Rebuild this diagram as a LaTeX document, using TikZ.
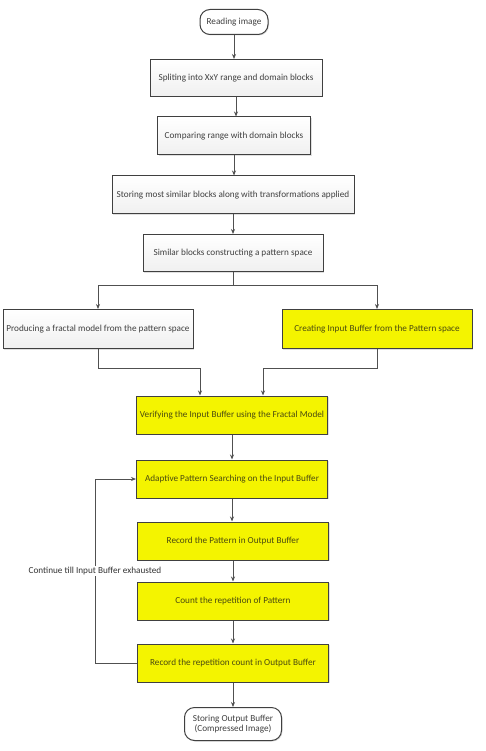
\documentclass[tikz,border=0pt]{standalone}
\usepackage{fontspec}
\setmainfont{Carlito}
\usetikzlibrary{arrows.meta,shadows}
\definecolor{edgec}{HTML}{505050}
\definecolor{boxline}{HTML}{404040}
\definecolor{txt}{HTML}{404040}
\definecolor{ylw}{HTML}{F4F400}
\definecolor{ytxt}{HTML}{4A4A10}
\tikzset{
  base/.style={draw=boxline, line width=1pt, text=txt, font=\fontsize{9.2}{10.5}\selectfont,
    align=center, inner sep=2pt, drop shadow={shadow xshift=1pt, shadow yshift=-1pt, opacity=0.25}},
  whitebox/.style={base, top color=white, bottom color=gray!12, minimum height=38pt},
  yellowbox/.style={base, fill=ylw, text=ytxt, minimum width=191pt, minimum height=38pt},
  term/.style={base, rounded corners=10pt, fill=white},
  arr/.style={draw=edgec, line width=0.8pt, -{Stealth[length=5pt,width=4pt]}},
  ln/.style={draw=edgec, line width=0.8pt},
}
\begin{document}
\begin{tikzpicture}[x=1pt,y=-1pt]
\useasboundingbox[fill=white] (0,0) rectangle (485,751);
\node[term, minimum width=68pt, minimum height=25pt] (read) at (234,22) {Reading image};
\node[whitebox, minimum width=172pt, minimum height=37pt] (split) at (236,78) {Spliting into XxY range and domain blocks};
\node[whitebox, minimum width=153pt] (comp) at (234,136) {Comparing range with domain blocks};
\node[whitebox, minimum width=242pt] (store) at (233,195) {Storing most similar blocks along with transformations applied};
\node[whitebox, minimum width=180pt, minimum height=37pt] (sim) at (233,253) {Similar blocks constructing a pattern space};
\node[whitebox, minimum width=190pt, minimum height=39pt] (prod) at (98,329) {Producing a fractal model from the pattern space};
\node[yellowbox, minimum width=190pt, minimum height=39pt] (create) at (377,329) {Creating Input Buffer from the Pattern space};
\node[yellowbox] (verify) at (232,415) {Verifying the Input Buffer using the Fractal Model};
\node[yellowbox] (adapt) at (232,479) {Adaptive Pattern Searching on the Input Buffer};
\node[yellowbox] (recpat) at (233,541) {Record the Pattern in Output Buffer};
\node[yellowbox] (count) at (233,601) {Count the repetition of Pattern};
\node[yellowbox] (recrep) at (233,663) {Record the repetition count in Output Buffer};
\node[term, minimum width=97pt, minimum height=33pt] (out) at (233,724) {Storing Output Buffer\\(Compressed Image)};

\coordinate (br) at (233,285);
\coordinate (m1) at (200,368);
\coordinate (m2) at (263,368);
\coordinate (lp) at (95,571);

\draw[arr] (read) -- (read |- split.north);
\draw[arr] (split) -- (split |- comp.north);
\draw[arr] (comp) -- (comp |- store.north);
\draw[arr] (store) -- (store |- sim.north);
\draw[ln] (sim.south) -- (br);
\draw[arr] (br) -| (prod.north);
\draw[arr] (br) -| (create.north);
\draw[ln] (prod.south) |- (m1);
\draw[arr] (m1) -- (m1 |- verify.north);
\draw[ln] (create.south) |- (m2);
\draw[arr] (m2) -- (m2 |- verify.north);
\draw[arr] (verify) -- (verify |- adapt.north);
\draw[arr] (adapt.south) -- (adapt.south |- recpat.north);
\draw[arr] (recpat) -- (recpat |- count.north);
\draw[arr] (count) -- (count |- recrep.north);
\draw[arr] (recrep) -- (recrep |- out.north);
\draw[arr] (recrep.west) -- (recrep.west -| lp) -- (lp |- adapt.west) -- (adapt.west);
\node[fill=white, inner sep=1pt, text=black!80, font=\fontsize{9.2}{10.5}\selectfont] (lbl) at (lp) {Continue till Input Buffer exhausted};
\end{tikzpicture}
\end{document}
